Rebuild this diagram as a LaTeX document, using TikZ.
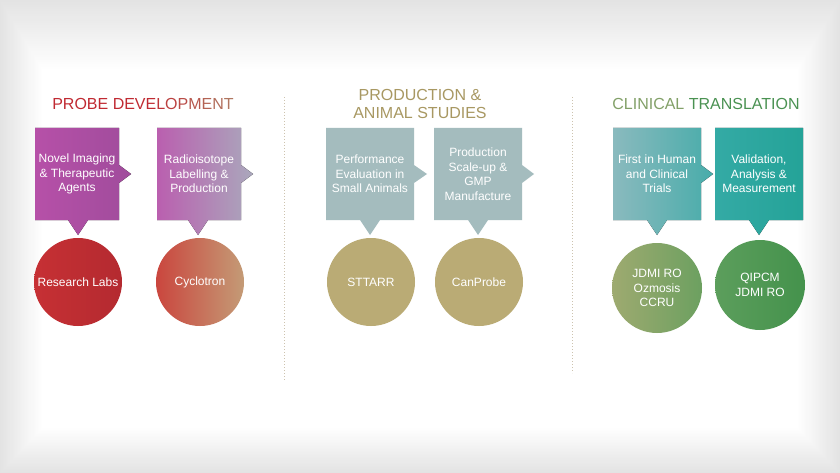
\documentclass[tikz,border=0pt]{standalone}
\usepackage{fontspec}
\setmainfont{Liberation Sans}

\definecolor{pdA}{RGB}{182,80,168}
\definecolor{pdB}{RGB}{160,76,156}
\definecolor{rlA}{RGB}{186,95,175}
\definecolor{rlB}{RGB}{170,168,188}
\definecolor{redA}{RGB}{198,48,52}
\definecolor{redB}{RGB}{180,42,48}
\definecolor{cyA}{RGB}{202,70,62}
\definecolor{cyB}{RGB}{196,155,118}
\definecolor{slate}{RGB}{164,188,190}
\definecolor{khaki}{RGB}{186,171,117}
\definecolor{tlA}{RGB}{138,186,190}
\definecolor{tlB}{RGB}{72,172,170}
\definecolor{tqA}{RGB}{52,170,165}
\definecolor{tqB}{RGB}{36,163,152}
\definecolor{olA}{RGB}{158,170,112}
\definecolor{olB}{RGB}{108,160,96}
\definecolor{gnA}{RGB}{92,158,92}
\definecolor{gnB}{RGB}{68,146,76}
\definecolor{redT}{RGB}{192,42,50}
\definecolor{brownT}{RGB}{176,118,96}
\definecolor{khakiT}{RGB}{168,152,98}
\definecolor{oliveT}{RGB}{130,160,104}
\definecolor{greenT}{RGB}{74,146,82}
\definecolor{sepgray}{RGB}{205,195,175}

\begin{document}
\begin{tikzpicture}[x=1pt,y=-1pt,
  boxtxt/.style={text=white, align=center, font=\fontsize{12}{14.5}\selectfont},
  disc/.style={circle, minimum size=88pt, inner sep=0pt, text=white, align=center, font=\fontsize{12}{14.5}\selectfont},
  heading/.style={align=center, font=\fontsize{16}{18.5}\selectfont},
  sepline/.style={draw=sepgray, line width=0.8pt, dash pattern=on 1pt off 2pt}]

\useasboundingbox (0,0) rectangle (840,473);

%vignette, outer rim grey, inner white
\foreach \i in {0,...,30}{
  \pgfmathsetmacro{\shadeval}{11*(1-\i/30)}
  \fill[black!\shadeval] (1.4*\i,2.3*\i) rectangle (840-1.4*\i,473-1.5*\i);
}

%headings
\node[heading] (t1) at (143,104) {\color{redT}PROBE DEVE\color{redT!85!brownT}L\color{redT!70!brownT}O\color{redT!55!brownT}P\color{redT!40!brownT}M\color{redT!25!brownT}E\color{redT!12!brownT}N\color{brownT}T};
\node[heading, text=khakiT] (t2) at (420,104) {PRODUCTION \&\\ANIMAL STUDIES};
\node[heading] (t3) at (706,104) {\color{oliveT}CLINICAL \color{greenT}TRANSLATION};

%separators
\draw[sepline] (284,97) -- (284,380);
\draw[sepline] (572,97) -- (572,373);

%box 1
\fill[left color=pdA, right color=pdB] (35,128) -- (119,128) -- (119,165) -- (131,174) -- (119,183) -- (119,220) -- (88,220) -- (78,235) -- (68,220) -- (35,220) -- cycle;
\node[boxtxt] (b1) at (77,174) {Novel Imaging\\\& Therapeutic\\Agents};
%box 2
\fill[left color=rlA, right color=rlB] (157,128) -- (241,128) -- (241,165) -- (253,174) -- (241,183) -- (241,220) -- (208,220) -- (198,235) -- (188,220) -- (157,220) -- cycle;
\node[boxtxt] (b2) at (199,174) {Radioisotope\\Labelling \&\\Production};
%box 3
\fill[slate] (326,128) -- (414,128) -- (414,165) -- (427,174) -- (414,183) -- (414,220) -- (380,220) -- (370,235) -- (360,220) -- (326,220) -- cycle;
\node[boxtxt] (b3) at (370,174) {Performance\\Evaluation in\\Small Animals};
%box 4
\fill[slate] (434,128) -- (522,128) -- (522,165) -- (534,174) -- (522,183) -- (522,220) -- (488,220) -- (478,235) -- (468,220) -- (434,220) -- cycle;
\node[boxtxt] (b4) at (478,174) {Production\\Scale-up \&\\GMP\\Manufacture};
%box 5
\fill[left color=tlA, right color=tlB] (613,128) -- (701,128) -- (701,165) -- (713,174) -- (701,183) -- (701,220) -- (667,220) -- (657,235) -- (647,220) -- (613,220) -- cycle;
\node[boxtxt] (b5) at (657,174) {First in Human\\and Clinical\\Trials};
%box 6, last one
\fill[left color=tqA, right color=tqB] (715,128) -- (803,128) -- (803,220) -- (769,220) -- (759,235) -- (749,220) -- (715,220) -- cycle;
\node[boxtxt] (b6) at (759,174) {Validation,\\Analysis \&\\Measurement};

%circles
\node[disc, left color=redA, right color=redB] (c1) at (78,282) {Research Labs};
\node[disc, left color=cyA, right color=cyB] (c2) at (200,282) {Cyclotron};
\node[disc, fill=khaki] (c3) at (371,282) {STTARR};
\node[disc, fill=khaki] (c4) at (479,282) {CanProbe};
\node[disc, minimum size=90pt, left color=olA, right color=olB] (c5) at (657,288) {JDMI RO\\Ozmosis\\CCRU};
\node[disc, minimum size=90pt, left color=gnA, right color=gnB] (c6) at (760,285) {QIPCM\\JDMI RO};

\end{tikzpicture}
\end{document}
